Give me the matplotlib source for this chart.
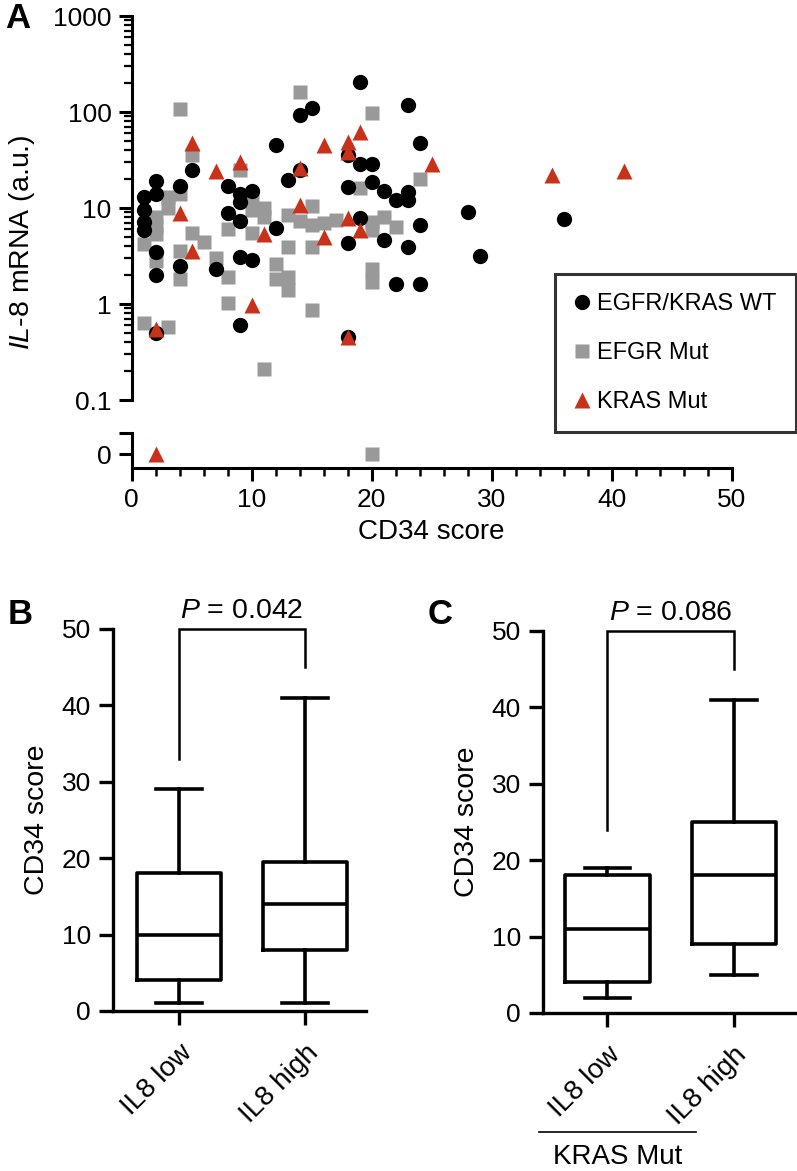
import numpy as np
import matplotlib
matplotlib.use("Agg")
import matplotlib.pyplot as plt
from matplotlib.lines import Line2D

plt.rcParams['font.family'] = ['Liberation Sans', 'DejaVu Sans']
plt.rcParams['mathtext.fontset'] = 'custom'
plt.rcParams['mathtext.rm'] = 'Liberation Sans'
plt.rcParams['mathtext.it'] = 'Liberation Sans:italic'

# ---- panel A data: CD34 score vs IL-8 mRNA (0 = below detection) ----
wt_x = [1, 1, 1, 1, 2, 2, 2, 2, 2, 4, 4, 5, 7, 8, 8, 9, 9, 9, 9, 9, 10, 10, 12, 12,
        13, 14, 14, 15, 18, 18, 18, 18, 19, 19, 19, 20, 20, 21, 21, 22, 22, 23, 23,
        23, 23, 24, 24, 24, 28, 29, 36]
wt_y = [13, 9.5, 7.2, 5.9, 19, 14, 3.5, 2.0, 0.5, 17, 2.5, 25, 2.3, 17, 8.9, 14, 11.5,
        7.4, 3.1, 0.6, 15, 2.9, 45, 6.2, 19.6, 25, 93, 110, 36, 16.5, 4.3, 0.45, 205,
        29, 7.9, 29, 18.6, 15, 4.6, 12, 1.6, 118, 14.7, 12, 3.9, 47, 6.6, 1.6, 9.1,
        3.2, 7.7]

mut_x = [1, 1, 2, 2, 2, 2, 3, 3, 3, 4, 4, 4, 4, 5, 5, 6, 7, 8, 8, 8, 9, 10, 10, 10,
         11, 11, 11, 12, 12, 13, 13, 13, 13, 14, 14, 15, 15, 15, 15, 16, 17, 19, 20,
         20, 20, 20, 20, 20, 21, 22, 24]
mut_y = [4.2, 0.63, 8, 6.5, 5.3, 2.8, 13, 10, 0.58, 107, 14, 3.6, 1.8, 36, 5.5, 4.4,
         3.0, 6.0, 1.9, 1.03, 25, 12, 9.5, 5.5, 10, 8.0, 0.21, 2.6, 1.8, 8.5, 3.9, 1.9,
         1.4, 162, 7.3, 10.5, 6.6, 3.9, 0.87, 7.0, 7.5, 16, 98, 7.1, 5.9, 2.3, 1.7, 0,
         8, 6.3, 20]

kras_x = [2, 2, 4, 5, 5, 7, 9, 10, 11, 14, 14, 16, 16, 18, 18, 18, 18, 19, 19, 25, 35, 41]
kras_y = [0.55, 0, 8.8, 47, 3.6, 24, 30, 0.98, 5.3, 26, 10.7, 45, 5.0, 49, 38, 7.9,
          0.45, 62, 5.9, 29, 22, 24]

legend_labels = ['EGFR/KRAS WT', 'EFGR Mut', 'KRAS Mut']

# ---- panels B, C: box stats [whislo, q1, med, q3, whishi] ----
groups = ['IL8 low', 'IL8 high']
b_stats = [[1, 4, 10, 18, 29], [1, 8, 14, 19.5, 41]]
c_stats = [[2, 4, 11, 18, 19], [5, 9, 18, 25, 41]]
b_p = 'P = 0.042'
c_p = 'P = 0.086'
bracket_b = [33, 45]
bracket_c = [24, 45]

W, H = 797, 1171
fig = plt.figure(figsize=(W / 100, H / 100), dpi=100)


def rect(l, t, r, b):
    return [l / W, 1 - b / H, (r - l) / W, (b - t) / H]


black = '#000000'
grey = '#999999'
red = '#c8321a'
fs_tick = 19
fs_lab = 20

# ---------------- panel A ----------------
axA = fig.add_axes(rect(131.7, 16, 731.7, 400))
axZ = fig.add_axes(rect(131.7, 433, 731.7, 468))

series = [(mut_x, mut_y, 's', grey, 10.5, 2),
          (wt_x, wt_y, 'o', black, 11, 3),
          (kras_x, kras_y, '^', red, 11.5, 4)]
handles = {}
for xs, ys, mk, col, ms, z in series:
    xs = np.array(xs, float)
    ys = np.array(ys, float)
    pos = ys > 0
    h, = axA.plot(xs[pos], ys[pos], mk, color=col, ms=ms, mec='none', zorder=z,
                  clip_on=False)
    axZ.plot(xs[~pos], np.zeros((~pos).sum()), mk, color=col, ms=ms, mec='none',
             zorder=z, clip_on=False)
    handles[mk] = h

axA.set_yscale('log')
axA.set_ylim(0.1, 1000)
axA.set_xlim(0, 50)
axA.set_yticks([0.1, 1, 10, 100, 1000])
axA.set_yticklabels(['0.1', '1', '10', '100', '1000'])
for s in ['top', 'right', 'bottom']:
    axA.spines[s].set_visible(False)
axA.spines['left'].set_linewidth(2.2)
axA.tick_params(axis='x', bottom=False, labelbottom=False)
axA.tick_params(axis='y', which='major', length=9.5, width=2.2, labelsize=fs_tick, pad=5)
axA.tick_params(axis='y', which='minor', length=5.5, width=1.6)

axZ.set_xlim(0, 50)
axZ.set_ylim(-2, 3)
axZ.set_yticks([0, 3])
axZ.set_yticklabels(['0', ''])
axZ.set_xticks(np.arange(0, 51, 10))
axZ.set_xticks(np.arange(0, 51, 2), minor=True)
for s in ['top', 'right']:
    axZ.spines[s].set_visible(False)
axZ.spines['left'].set_linewidth(2.2)
axZ.spines['bottom'].set_linewidth(2.2)
axZ.tick_params(axis='both', which='major', length=9.5, width=2.2, labelsize=fs_tick, pad=5)
axZ.tick_params(axis='x', which='minor', length=6, width=1.8)
axZ.set_xlabel('CD34 score', fontsize=fs_lab, labelpad=5)

fig.text(22 / W, 1 - 242 / H, r'$\mathit{IL}$-$\mathit{8}$ mRNA (a.u.)', rotation=90,
         ha='center', va='center', fontsize=fs_lab + 0.5)
fig.text(18 / W, 1 - 18 / H, 'A', fontsize=25, fontweight='bold', ha='center', va='center')

leg = fig.legend([handles['o'], handles['s'], handles['^']], legend_labels,
                 loc='upper right', bbox_to_anchor=(795.5 / W, 1 - 274 / H),
                 fontsize=17, frameon=True, fancybox=False, edgecolor='k',
                 borderaxespad=0, handlelength=0.7, handletextpad=0.3,
                 labelspacing=1.15, borderpad=0.8, markerscale=1.0)
leg.get_frame().set_linewidth(2.2)


# ---------------- panels B and C ----------------
def box_panel(ax, stats, pval, bracket):
    bx = [dict(whislo=s[0], q1=s[1], med=s[2], q3=s[3], whishi=s[4]) for s in stats]
    lp = dict(color='k', linewidth=2.6)
    ax.bxp(bx, positions=[1, 2], widths=0.667, showfliers=False, capwidths=0.36,
           boxprops=lp, whiskerprops=lp, capprops=lp, medianprops=lp)
    ax.set_ylim(0, 50)
    ax.set_yticks(np.arange(0, 51, 10))
    ax.set_xticks([1, 2])
    ax.set_xticklabels(groups, rotation=45, ha='right', va='top', rotation_mode='anchor')
    for s in ['top', 'right']:
        ax.spines[s].set_visible(False)
    for s in ['left', 'bottom']:
        ax.spines[s].set_linewidth(2.4)
    ax.tick_params(axis='both', length=10, width=2.4, labelsize=fs_tick, pad=6)
    ax.tick_params(axis='x', labelsize=fs_lab, pad=11)
    ax.set_ylabel('CD34 score', fontsize=fs_lab + 0.5, labelpad=8)
    ax.plot([1, 1, 2, 2], [bracket[0], 50, 50, bracket[1]], color='k', lw=1.8,
            clip_on=False, solid_joinstyle='miter')
    ax.text(1.5, 50.6, r'$\mathit{P}$' + pval[1:], ha='center', va='bottom',
            fontsize=fs_lab + 0.5)


axB = fig.add_axes(rect(113, 629, 366, 1011))
axB.set_xlim(0.476, 2.484)
box_panel(axB, b_stats, b_p, bracket_b)
fig.text(20 / W, 1 - 615 / H, 'B', fontsize=25, fontweight='bold', ha='center', va='center')

axC = fig.add_axes(rect(543, 631, 797, 1013))
axC.set_xlim(0.49, 2.5)
box_panel(axC, c_stats, c_p, bracket_c)
fig.text(440 / W, 1 - 615 / H, 'C', fontsize=25, fontweight='bold', ha='center', va='center')

fig.add_artist(Line2D([539 / W, 696 / W], [1 - 1132 / H] * 2, color='k', lw=1.2))
fig.text(618 / W, 1 - 1157 / H, 'KRAS Mut', ha='center', va='center', fontsize=fs_lab)

fig.savefig('out.png', dpi=100)
